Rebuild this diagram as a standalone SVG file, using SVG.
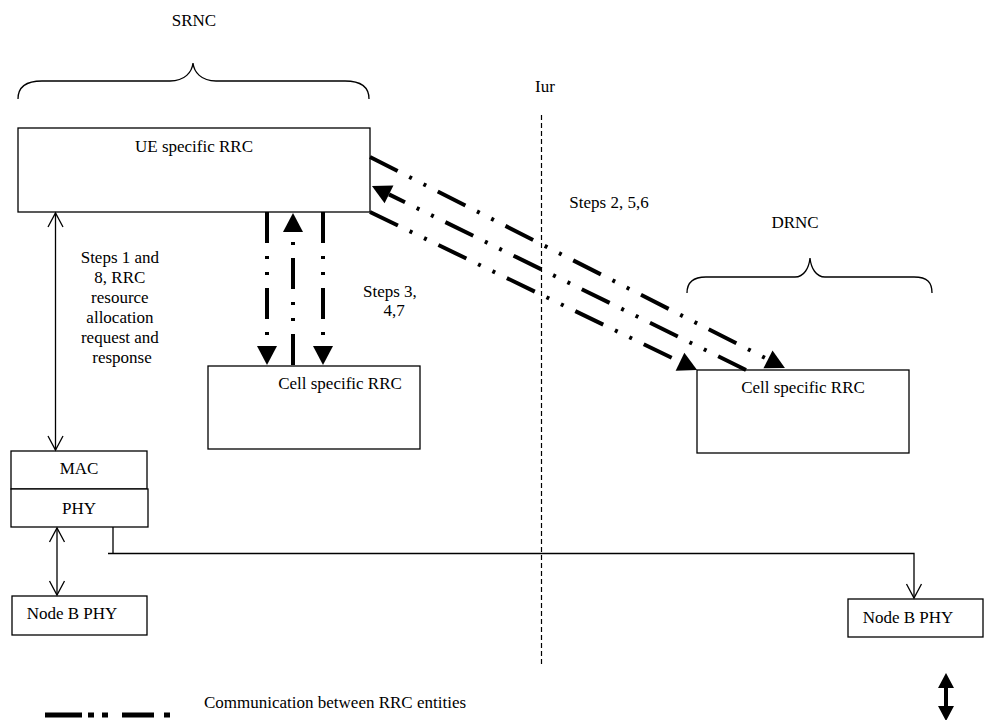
<svg xmlns="http://www.w3.org/2000/svg" width="985" height="720" viewBox="0 0 985 720">
<style>
text{font-family:"Liberation Serif","Times New Roman",serif;font-size:17px;fill:#000}
.box{fill:#fff;stroke:#000;stroke-width:1.3}
.thin{fill:none;stroke:#000;stroke-width:1.3}
.rrc{fill:none;stroke:#000;stroke-width:4;stroke-dasharray:31 13 3 13 3 13}
.iur{fill:none;stroke:#000;stroke-width:1.2;stroke-dasharray:5 3}
</style>
<defs>
<marker id="fa" markerUnits="userSpaceOnUse" markerWidth="20" markerHeight="20" refX="0" refY="10" orient="auto" overflow="visible">
<path d="M0,0 L19,10 L0,20 z" fill="#000"/>
</marker>
<marker id="oa" markerUnits="userSpaceOnUse" markerWidth="16" markerHeight="16" refX="14" refY="7.5" orient="auto-start-reverse" overflow="visible">
<path d="M0,0 L14,7.5 L0,15" fill="none" stroke="#000" stroke-width="1.3"/>
</marker>
<marker id="la" markerUnits="userSpaceOnUse" markerWidth="16" markerHeight="16" refX="0" refY="8" orient="auto-start-reverse" overflow="visible">
<path d="M0,0 L15,8 L0,16 z" fill="#000"/>
</marker>
</defs>

<g id="srnc-label">
<text x="194" y="26" text-anchor="middle">SRNC</text>
<path class="thin" d="M18,99 C18,88 25,81 42,81 L170,81 C185,81 192,72 193,63 C194,72 201,81 216,81 L345,81 C362,81 369,88 369,99"/>
</g>

<g id="drnc-label">
<text x="795" y="228" text-anchor="middle">DRNC</text>
<path class="thin" d="M687,293 C687,283 692,277 706,277 L795,277 C804,277 809,268 810,258 C811,268 816,277 825,277 L914,277 C928,277 932,283 932,293"/>
</g>

<g id="iur">
<text x="545" y="92" text-anchor="middle">Iur</text>
<line class="iur" x1="541.5" y1="115" x2="541.5" y2="665"/>
</g>

<g id="ue-rrc">
<rect class="box" x="18" y="128" width="352" height="84"/>
<text x="194" y="152" text-anchor="middle">UE specific RRC</text>
</g>

<g id="cell-rrc-srnc">
<rect class="box" x="208" y="366" width="212" height="83"/>
<text x="340" y="389" text-anchor="middle">Cell specific RRC</text>
</g>

<g id="cell-rrc-drnc">
<rect class="box" x="697" y="370" width="212" height="83"/>
<text x="803" y="393" text-anchor="middle">Cell specific RRC</text>
</g>

<g id="mac">
<rect class="box" x="11" y="451" width="136" height="38"/>
<text x="79" y="474" text-anchor="middle">MAC</text>
</g>

<g id="phy">
<rect class="box" x="11" y="489" width="137" height="38"/>
<text x="79" y="514" text-anchor="middle">PHY</text>
</g>

<g id="nodeb-phy-1">
<rect class="box" x="12" y="596" width="135" height="39"/>
<text x="72" y="619" text-anchor="middle">Node B PHY</text>
</g>

<g id="nodeb-phy-2">
<rect class="box" x="848" y="599" width="135" height="38"/>
<text x="908" y="623" text-anchor="middle">Node B PHY</text>
</g>

<g id="connectors">
<line class="thin" x1="55.5" y1="213" x2="55.5" y2="450" marker-start="url(#oa)" marker-end="url(#oa)"/>
<line class="thin" x1="57" y1="528" x2="57" y2="595" marker-start="url(#oa)" marker-end="url(#oa)"/>
<path class="thin" d="M113,527 V553.5 M108,553.5 H914 V598" marker-end="url(#oa)"/>

<line class="rrc" x1="267" y1="212" x2="267" y2="346" marker-end="url(#fa)"/>
<line class="rrc" x1="293" y1="365" x2="293" y2="232" marker-end="url(#fa)"/>
<line class="rrc" x1="323" y1="212" x2="323" y2="346" marker-end="url(#fa)"/>

<line class="rrc" x1="370" y1="157" x2="768" y2="359.4" marker-end="url(#fa)"/>
<line class="rrc" x1="746" y1="370" x2="389" y2="194.4" marker-end="url(#fa)"/>
<line class="rrc" x1="370" y1="212" x2="680" y2="361.7" marker-end="url(#fa)"/>
</g>

<g id="step-labels">
<text text-anchor="middle">
<tspan x="122" y="263">Steps 1 and</tspan>
<tspan x="122" y="283">8, RRC</tspan>
<tspan x="122" y="303">resource</tspan>
<tspan x="122" y="323">allocation</tspan>
<tspan x="122" y="343">request and</tspan>
<tspan x="122" y="363">response</tspan>
</text>
<text text-anchor="middle">
<tspan x="392" y="297">Steps 3,</tspan>
<tspan x="394" y="316">4,7</tspan>
</text>
<text x="609" y="208" text-anchor="middle">Steps 2, 5,6</text>
</g>

<g id="legend">
<line x1="45" y1="715" x2="170" y2="715" stroke="#000" stroke-width="5" stroke-dasharray="37 6 6 8 6 14 32 10 6 10"/>
<text x="204" y="708">Communication between RRC entities</text>
<line x1="946" y1="688" x2="946" y2="706" stroke="#000" stroke-width="4" marker-start="url(#la)" marker-end="url(#la)"/>
</g>
</svg>
